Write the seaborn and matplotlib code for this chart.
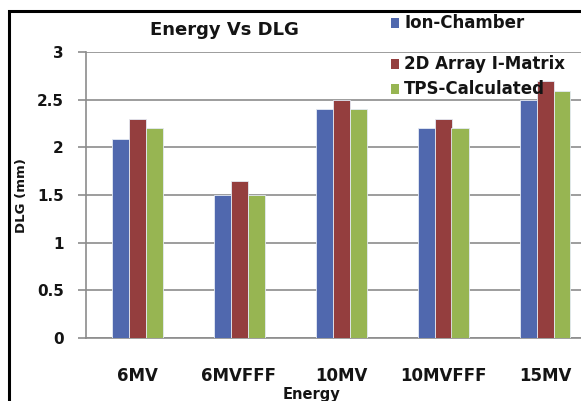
import matplotlib
matplotlib.use("Agg")
import matplotlib.pyplot as plt
import seaborn as sns
import pandas as pd
from matplotlib.patches import Rectangle

categories = ["6MV", "6MVFFF", "10MV", "10MVFFF", "15MV"]
series = ["Ion-Chamber", "2D Array I-Matrix", "TPS-Calculated"]
ion_chamber = [2.09, 1.5, 2.4, 2.2, 2.5]
array_2d = [2.3, 1.65, 2.5, 2.3, 2.7]
tps_calc = [2.2, 1.5, 2.4, 2.2, 2.59]
yticks = [0, 0.5, 1, 1.5, 2, 2.5, 3]
ytick_labels = ["0", "0.5", "1", "1.5", "2", "2.5", "3"]
colors = ["#5068AE", "#943E3E", "#97B552"]

rows = []
for s, vals in zip(series, [ion_chamber, array_2d, tps_calc]):
    for c, v in zip(categories, vals):
        rows.append({"Energy": c, "Series": s, "DLG": v})
df = pd.DataFrame(rows)

sns.set_style("white")
plt.rcParams["font.family"] = ["DejaVu Sans"]
plt.rcParams["font.weight"] = "bold"
TXT = "#141414"
plt.rcParams["text.color"] = TXT
plt.rcParams["axes.labelcolor"] = TXT
plt.rcParams["xtick.color"] = TXT
plt.rcParams["ytick.color"] = TXT

W, H = 581, 401
AX_L, AX_R, AX_T, AX_B = 86, 596, 52, 338
fig = plt.figure(figsize=(W / 100, H / 100), dpi=100)
ax = fig.add_axes([AX_L / W, (H - AX_B) / H, (AX_R - AX_L) / W, (AX_B - AX_T) / H])

sns.barplot(data=df, x="Energy", y="DLG", hue="Series", hue_order=series,
            order=categories, palette=colors, saturation=1, width=0.5, ax=ax,
            edgecolor="#E4EAF4", linewidth=0.6, legend=False, zorder=3)

ax.set_ylim(0, 3)
ax.set_xlim(-0.5, 4.5)
ax.set_yticks(yticks)
ax.set_yticklabels(ytick_labels, fontsize=11, fontweight="bold")
ax.yaxis.grid(True, color="#8C8C8C", linewidth=1.2, zorder=0)
ax.set_axisbelow(True)
for sp in ["top", "right"]:
    ax.spines[sp].set_visible(False)
for sp in ["left", "bottom"]:
    ax.spines[sp].set_color("#8C8C8C")
    ax.spines[sp].set_linewidth(1.2)
ax.tick_params(axis="y", length=6, width=1.2, color="#8C8C8C", labelcolor=TXT, pad=10,
               direction="out", left=True)
ax.tick_params(axis="x", length=0, pad=21, labelcolor=TXT)
for lab in ax.get_xticklabels():
    lab.set_fontsize(12)
    lab.set_fontweight("bold")
ax.set_xlabel("Energy", fontsize=10.5, fontweight="bold", color=TXT)
ax.xaxis.set_label_coords((311 - AX_L) / (AX_R - AX_L), -(387 - AX_B) / (AX_B - AX_T))
ax.xaxis.label.set_va("top")
ax.set_ylabel("DLG (mm)", fontsize=9.5, fontweight="bold", color=TXT)
ax.yaxis.set_label_coords(-(AX_L - 28) / (AX_R - AX_L), (338 - 196) / (AX_B - AX_T))
fig.text(224 / W, 1 - 30 / H, "Energy Vs DLG", fontsize=13, fontweight="bold",
         ha="center", va="center", color=TXT)

# legend entries (uneven vertical placement as in the reference)
leg_y = [23, 64, 89]
for name, col, yy in zip(series, colors, leg_y):
    fig.patches.append(Rectangle((391 / W, 1 - (yy + 5) / H), 8 / W, 10 / H,
                                 transform=fig.transFigure, facecolor=col,
                                 edgecolor="none", zorder=5))
    fig.text(404 / W, 1 - yy / H, name, fontsize=12, fontweight="bold",
             ha="left", va="center", zorder=6, color=TXT)

fig.patches.append(Rectangle((8.5 / W, -0.05), 1.2, 1 - 11 / H + 0.05, transform=fig.transFigure,
                             fill=False, edgecolor="black", linewidth=2.2, zorder=10))

fig.savefig("out.png", dpi=100)
